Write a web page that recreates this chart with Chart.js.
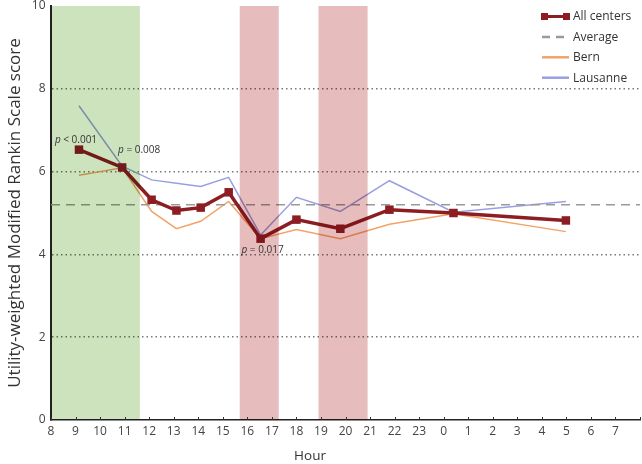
<!DOCTYPE html>
<html>
<head>
<meta charset="utf-8">
<script src="https://cdn.jsdelivr.net/npm/chart.js@4.4.0/dist/chart.umd.min.js"></script>
<style>
  html, body { margin: 0; padding: 0; background: #fff; overflow: hidden; }
  /* chart.js keeps ~5px free on the right; the wrap is a bit wider so the plot reaches the edge */
  #wrap { width: 646px; height: 464px; position: relative; }
</style>
</head>
<body>
<div id="wrap"><canvas id="chart"></canvas></div>
<script>
// hours run past 24 so the night stays on one axis (24 = 0h, 28 = 4h ...)
const hours = [9.14, 10.9, 12.1, 13.11, 14.1, 15.24, 16.54, 18.0, 19.79, 21.79, 24.4, 28.98];
const allCenters = [6.53, 6.10, 5.32, 5.06, 5.13, 5.50, 4.38, 4.84, 4.62, 5.08, 5.00, 4.82];
const bern = [5.91, 6.09, 5.04, 4.62, 4.80, 5.28, 4.38, 4.60, 4.38, 4.73, 4.98, 4.55];
const lausanne = [7.59, 6.13, 5.80, 5.72, 5.64, 5.86, 4.47, 5.38, 5.04, 5.78, 5.02, 5.28];
const averageScore = 5.2;

// shaded time windows (hours)
const greenBands = [[8, 11.62]];
const redBands = [[15.69, 17.28], [18.9, 20.9]];

// p-values, attached to a point of "All centers"
const pTexts = ['< 0.001', '= 0.008', '= 0.017'];
const pPoints = [0, 1, 6];

const FONT = "'Open Sans', 'DejaVu Sans', sans-serif";
const toXY = vals => hours.map((h, i) => ({ x: h, y: vals[i] }));

// bands are multiplied over the lines, like in the original figure
const bandsPlugin = {
  id: 'bands',
  afterDatasetsDraw(chart) {
    const { ctx, chartArea: a, scales: { x } } = chart;
    ctx.save();
    ctx.beginPath();
    ctx.rect(a.left, a.top, a.right - a.left, a.bottom - a.top);
    ctx.clip();
    ctx.globalCompositeOperation = 'multiply';
    const fill = (bands, color) => {
      ctx.fillStyle = color;
      bands.forEach(b => {
        const x1 = x.getPixelForValue(b[0]), x2 = x.getPixelForValue(b[1]);
        ctx.fillRect(x1, a.top, x2 - x1, a.bottom - a.top);
      });
    };
    fill(greenBands, '#cde3be');
    fill(redBands, '#e6bcbd');
    ctx.restore();
  }
};

const pOffsets = [[-3, -10], [17, -17], [2, 11]];

const extrasPlugin = {
  id: 'extras',
  afterDraw(chart) {
    const { ctx, chartArea: a, scales: { x, y } } = chart;
    ctx.save();

    // small inward ticks on the hour axis
    ctx.strokeStyle = '#333';
    ctx.lineWidth = 1;
    x.ticks.forEach(t => {
      const px = Math.round(x.getPixelForValue(t.value)) + 0.5;
      ctx.beginPath();
      ctx.moveTo(px, a.bottom);
      ctx.lineTo(px, a.bottom - 3);
      ctx.stroke();
    });

    // x title sits left of the plot centre in the original
    ctx.fillStyle = '#333';
    ctx.font = '13.5px ' + FONT;
    ctx.textAlign = 'center';
    ctx.textBaseline = 'middle';
    ctx.fillText('Hour', 310, a.bottom + 36);

    // p-value labels
    pTexts.forEach((txt, i) => {
      const k = pPoints[i];
      const cx = x.getPixelForValue(hours[k]) + pOffsets[i][0];
      const cy = y.getPixelForValue(allCenters[k]) + pOffsets[i][1];
      ctx.font = 'italic 10px ' + FONT;
      const wp = ctx.measureText('p').width;
      ctx.font = '10px ' + FONT;
      const wr = ctx.measureText(' ' + txt).width;
      const x0 = cx - (wp + wr) / 2;
      ctx.textAlign = 'left';
      ctx.font = 'italic 10px ' + FONT;
      ctx.fillText('p', x0, cy);
      ctx.font = '10px ' + FONT;
      ctx.fillText(' ' + txt, x0 + wp, cy);
    });

    // legend
    const lx1 = a.right - 98, lx2 = a.right - 71, tx = a.right - 67;
    const rows = chart.data.datasets;
    rows.forEach((ds, i) => {
      const ly = a.top + 10.5 + i * 20.4;
      ctx.save();
      ctx.strokeStyle = ds.borderColor;
      ctx.lineWidth = i === 0 ? 3 : 2.5;
      if (i === 1) ctx.setLineDash([8, 6]);
      ctx.beginPath();
      ctx.moveTo(lx1, ly);
      ctx.lineTo(lx2, ly);
      ctx.stroke();
      if (i === 0) {
        ctx.fillStyle = ds.borderColor;
        ctx.fillRect(lx1 - 1, ly - 3.5, 7, 7);
        ctx.fillRect(lx2 - 6, ly - 3.5, 7, 7);
      }
      ctx.restore();
      ctx.fillStyle = '#333';
      ctx.font = '12px ' + FONT;
      ctx.textAlign = 'left';
      ctx.fillText(ds.label, tx, ly + 0.5);
    });
    ctx.restore();
  }
};

new Chart(document.getElementById('chart'), {
  type: 'line',
  data: {
    datasets: [
      { label: 'All centers', data: toXY(allCenters), borderColor: '#8c1d22', backgroundColor: '#8c1d22',
        borderWidth: 3.5, pointStyle: 'rect', pointRadius: 6, pointHoverRadius: 6, pointBorderWidth: 0 },
      { label: 'Average', data: [{ x: 8, y: averageScore }, { x: 32, y: averageScore }], borderColor: '#9a9a9a',
        borderWidth: 1.5, borderDash: [9, 6], pointRadius: 0 },
      { label: 'Bern', data: toXY(bern), borderColor: '#f2a466', borderWidth: 1.5, pointRadius: 0 },
      { label: 'Lausanne', data: toXY(lausanne), borderColor: '#9a9fe0', borderWidth: 1.5, pointRadius: 0 }
    ]
  },
  options: {
    responsive: true,
    maintainAspectRatio: false,
    animation: false,
    layout: { padding: { top: 5, right: 0, left: 0, bottom: 0 } },
    plugins: { legend: { display: false }, tooltip: { enabled: false } },
    scales: {
      x: {
        type: 'linear', min: 8, max: 32,
        afterFit: s => { s.height = 44; s.paddingLeft = 0; s.paddingRight = 0; },
        ticks: {
          stepSize: 1, autoSkip: false, maxRotation: 0, padding: 4, color: '#444',
          font: { family: FONT, size: 12 },
          callback: v => v >= 32 ? '' : String(v % 24)
        },
        grid: { display: false, drawTicks: false },
        border: { display: true, color: '#222', width: 1.5 }
      },
      y: {
        min: 0, max: 10,
        afterFit: s => { s.width = 51; s.paddingTop = 0; s.paddingBottom = 0; },
        ticks: { stepSize: 2, padding: 5.5, color: '#444', font: { family: FONT, size: 12 } },
        grid: {
          drawTicks: false, lineWidth: 1.5,
          color: c => (c.tick && c.tick.value > 0 && c.tick.value < 10) ? '#7a7a7a' : 'rgba(0,0,0,0)'
        },
        border: { display: true, color: '#222', width: 2, dash: [1.5, 3] },
        title: { display: true, text: 'Utility-weighted Modified Rankin Scale score', color: '#333',
          font: { family: FONT, size: 17 }, padding: { top: 5, bottom: 0 } }
      }
    }
  },
  plugins: [bandsPlugin, extrasPlugin]
});
</script>
</body>
</html>
